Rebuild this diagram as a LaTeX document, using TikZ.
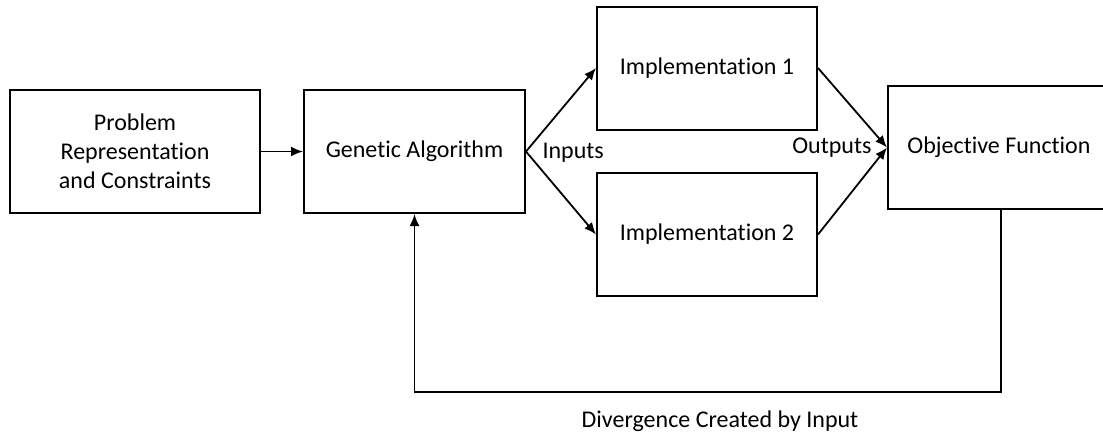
\documentclass[tikz,border=0pt]{standalone}
\usepackage{fontspec}
\setmainfont{Carlito}[Ligatures=NoCommon]
\usepackage{tikz}
\usetikzlibrary{positioning}
\usetikzlibrary{arrows.meta}

\begin{document}
\begin{tikzpicture}[x=1pt, y=-1pt,
	block/.style={draw, line width=2pt, align=center, inner sep=0pt,
		minimum height=123pt},
	flow/.style={line width=1.8pt, -{Latex[length=12pt,width=10pt]}},
	every node/.append style={font=\fontsize{24}{29}\selectfont}]
	
	% page size, in pixels counted from the top left corner
	\useasboundingbox (0,0) rectangle (1103,437);
	
	% the blocks: centre given, width set per block
	\node[block, minimum width=250pt] (prob)   at (135,151.5) {Problem\\Representation\\and Constraints};
	\node[block, minimum width=221pt] (ga)     at (414.5,151.5) {Genetic Algorithm};
	\node[block, minimum width=220pt] (impl1)  at (707,68) {Implementation 1};
	\node[block, minimum width=220pt] (impl2)  at (707,234.5) {Implementation 2};
	\node[block, minimum width=222pt] (objfn)  at (999,147.5) {Objective Function};
	
	% labels on the fan out / fan in
	\node[anchor=west] (inlbl)  at (539,153) {Inputs};
	\node[anchor=east] (outlbl) at (875,148) {Outputs};
	
	%%%%%%%%%%%%%%%%%%%%%%%%%%%%%%%%%%%%%%%%%%%%%%%%%%%%%%%%%%%%%%
	% forward path
	\draw[flow] (prob) -- (ga);
	\draw[flow] (ga.east) -- (impl1.west);
	\draw[flow] (ga.east) -- (impl2.west);
	\draw[flow] (impl1.east) -- (objfn.west);
	\draw[flow] (impl2.east) -- (objfn.west);
	
	% feedback loop under the implementations
	\coordinate (loopR) at ([xshift=2pt]objfn.south);
	\coordinate (loopB) at (1001,392);
	\draw[flow] (loopR) -- (loopB) -| (ga.south);
	\node (divlbl) at (720,421) {Divergence Created by Input};
	
\end{tikzpicture}
\end{document}
